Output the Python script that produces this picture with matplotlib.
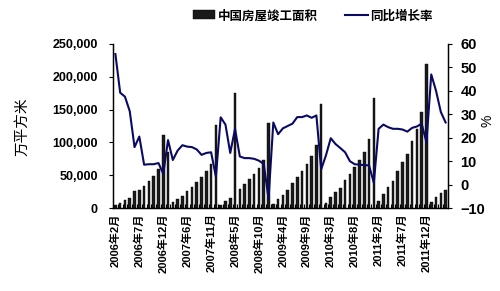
import matplotlib
matplotlib.use('Agg')
import matplotlib.pyplot as plt
from matplotlib.ticker import FuncFormatter
import numpy as np

plt.rcParams['font.family'] = ['Liberation Sans', 'Noto Sans CJK SC']
plt.rcParams['font.weight'] = 'bold'

# 中国房屋竣工面积 (万平方米), 2006年2月 - 2012年5月
area = [4600, 8100, 12300, 15800, 26000, 27600, 34200, 41900, 49600, 59300, 112000,
        85000, 8700, 13800, 18900, 26000, 32700, 40300, 48000, 56800, 67500, 127000,
        4600, 10700, 14900, 176000, 29100, 36800, 45000, 52200, 60900, 72600, 128900,
        5700, 13300, 19900, 27600, 38300, 48000, 56800, 67500, 79800, 96600, 158000,
        7200, 17300, 24000, 31200, 43000, 52200, 62400, 73600, 84800, 104800, 167000,
        10700, 21000, 32700, 41900, 56800, 70100, 82800, 101700, 120700, 146200, 219000,
        8700, 17300, 23000, 27000]

# 同比增长率 (%)
growth = [55.7, 39.2, 37.5, 31.3, 16.0, 20.5, 8.5, 8.7, 8.7, 9.2, 4.6,
          19.0, 10.5, 14.5, 16.8, 16.2, 16.0, 15.0, 12.7, 13.5, 13.8, 3.4,
          28.7, 25.6, 13.5, 23.8, 12.0, 11.3, 11.3, 11.0, 10.2, 8.8, -6.0,
          26.5, 21.5, 24.0, 25.0, 26.0, 28.8, 28.8, 29.5, 28.5, 29.5, 6.5,
          12.5, 19.8, 17.3, 15.6, 13.8, 10.0, 8.7, 8.5, 8.3, 8.2, 0.8,
          23.8, 25.6, 24.5, 23.8, 23.8, 23.5, 22.6, 24.2, 24.8, 26.0, 18.0,
          47.0, 40.0, 31.0, 26.5]

tick_labels = ['2006年2月', '2006年7月', '2006年12月', '2007年6月', '2007年11月',
               '2008年5月', '2008年10月', '2009年4月', '2009年9月', '2010年3月',
               '2010年8月', '2011年2月', '2011年7月', '2011年12月']

x = np.arange(len(area))

fig = plt.figure(figsize=(5.0, 2.91), dpi=100)
ax = fig.add_axes([0.226, 0.285, 0.67, 0.564])
ax2 = ax.twinx()

bars = ax.bar(x, area, width=0.55, color='#1a1a1a', edgecolor='#000000', linewidth=0.3,
              label='中国房屋竣工面积')
line, = ax2.plot(x, growth, color='#0a0a64', linewidth=1.5, label='同比增长率')

ax.set_xlim(-0.5, len(area) - 0.5)
ax.set_ylim(0, 250000)
ax2.set_ylim(-10, 60)

ax.set_yticks(np.arange(0, 250001, 50000))
ax.yaxis.set_major_formatter(FuncFormatter(lambda v, p: f'{int(v):,}'))
ax2.set_yticks(np.arange(-10, 61, 10))

ax.set_xticks(x[::5])
ax.set_xticklabels(tick_labels, rotation=90, fontsize=8)
ax.set_xticks(np.arange(-0.5, len(area), 1), minor=True)
ax.tick_params(axis='x', which='major', length=0, pad=4)
ax.tick_params(axis='x', which='minor', direction='in', length=3, width=0.8)
ax.tick_params(axis='y', direction='out', length=3, labelsize=9, pad=8)
ax2.tick_params(axis='y', direction='out', length=3, labelsize=10.5, pad=6)

for a in (ax, ax2):
    a.spines['top'].set_visible(False)
    for s in ('left', 'right', 'bottom'):
        a.spines[s].set_linewidth(0.9)

fig.text(0.044, 0.565, '万平方米', rotation=90, ha='center', va='center',
         fontsize=10.5, fontweight='normal', family=['Noto Sans CJK SC'])
fig.text(0.975, 0.585, '%', rotation=90, ha='center', va='center',
         fontsize=10, fontweight='normal')

fig.legend(handles=[bars, line], loc='center', bbox_to_anchor=(0.625, 0.945), ncol=2,
           frameon=False, fontsize=9, handlelength=1.8, handleheight=0.7,
           columnspacing=2.2, handletextpad=0.2)

fig.savefig('out.png', dpi=100)
